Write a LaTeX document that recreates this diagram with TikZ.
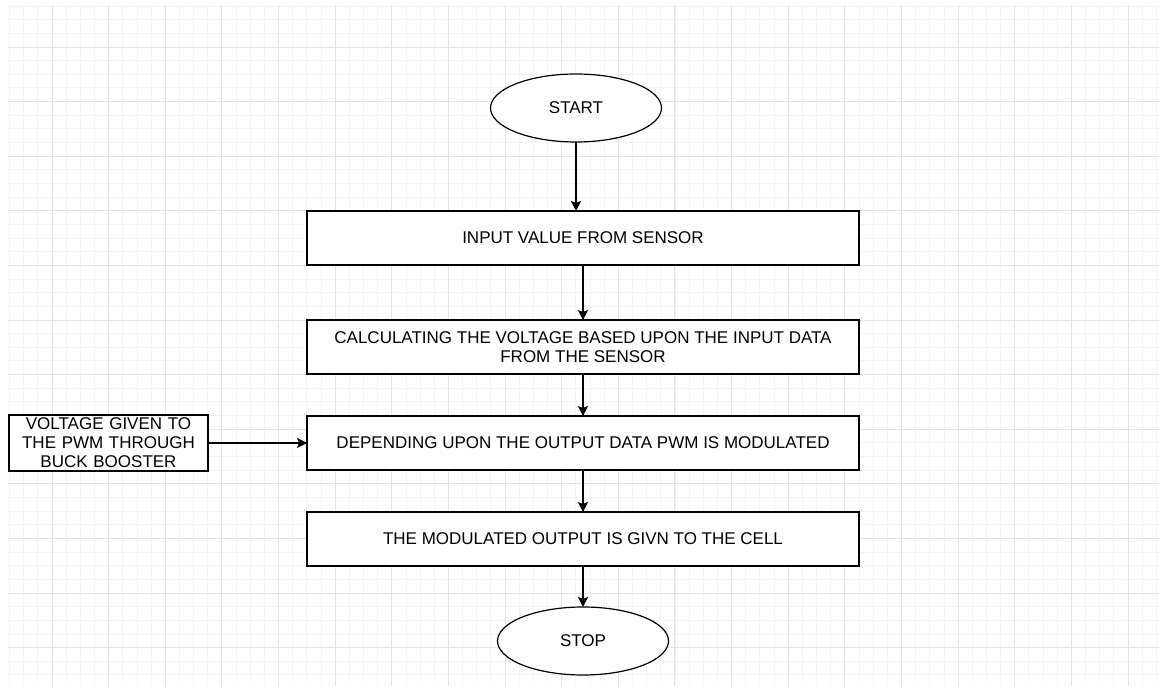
\documentclass[tikz,border=0pt]{standalone}
\usepackage{fontspec}
\setmainfont{Liberation Sans}
\usetikzlibrary{arrows.meta,positioning,shapes.geometric}
\definecolor{GridMinor}{HTML}{F4F4F4}
\definecolor{GridMajor}{HTML}{E3E3E3}
\tikzset{
 box/.style={draw=black,fill=white,line width=1.2pt,align=center,font=\fontsize{17}{19}\selectfont,minimum width=552pt,minimum height=54pt,inner sep=2pt,outer sep=0pt},
 side/.style={box,minimum width=199pt,minimum height=56pt,text width=195pt},
 term/.style={box,ellipse,minimum width=171pt,minimum height=68pt},
 arr/.style={-{Stealth[length=10pt,width=10pt,inset=2pt]},line width=1.2pt,draw=black}
}
\begin{document}
\begin{tikzpicture}[x=1pt,y=1pt]
\useasboundingbox (0,0) rectangle (1159,686);
% grid paper
\begin{scope}
\clip (8,0) rectangle (1159,681);
\foreach \i in {0,...,81} \draw[GridMinor,line width=0.8pt] ({9.5+14.158*\i},0) -- ++(0,681);
\foreach \j in {0,...,49} \draw[GridMinor,line width=0.8pt] (8,{680-13.65*\j}) -- ++(1151,0);
\foreach \i in {0,...,19} \draw[GridMajor,line width=0.9pt] ({52+56.63*\i},0) -- ++(0,681);
\foreach \j in {0,...,11} \draw[GridMajor,line width=0.9pt] (8,{639-54.6*\j}) -- ++(1151,0);
\end{scope}
% flow
\node[box] (in) at (583,448) {INPUT VALUE FROM SENSOR};
\node[term] (start) at (576,578) {START};
\node[box,below=55pt of in] (calc) {CALCULATING THE VOLTAGE BASED UPON THE INPUT DATA\\FROM THE SENSOR};
\node[box,below=42pt of calc] (pwm) {DEPENDING UPON THE OUTPUT DATA PWM IS MODULATED};
\node[box,below=42pt of pwm] (cell) {THE MODULATED OUTPUT IS GIVN TO THE CELL};
\node[term,below=41pt of cell] (stop) {STOP};
\node[side,left=99pt of pwm] (buck) {VOLTAGE GIVEN TO\\THE PWM THROUGH\\BUCK BOOSTER};
\draw[arr] (start) -- (start|-in.north);
\foreach \x/\y in {in/calc,calc/pwm,pwm/cell,cell/stop,buck/pwm} \draw[arr] (\x)--(\y);
\end{tikzpicture}
\end{document}
